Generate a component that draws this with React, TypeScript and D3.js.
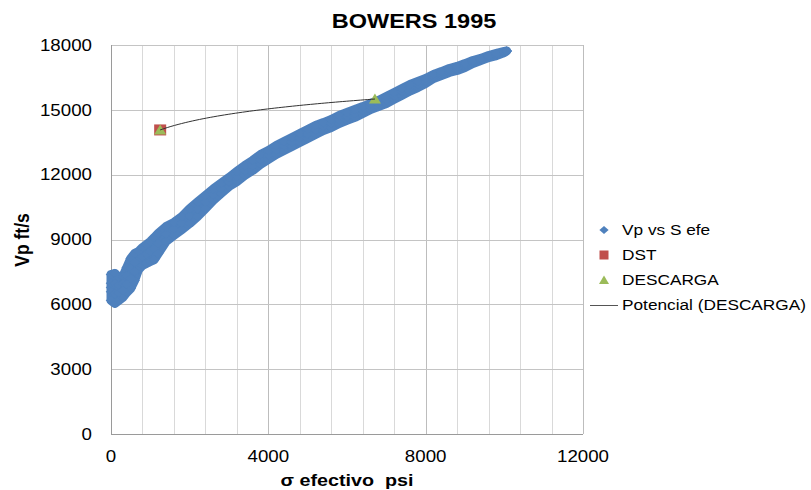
import React from "react";
import * as d3 from "d3";

// Effective stress (psi) sampled along the Vp vs S efe cloud
const sigmaEfe = [
  0, 100, 200, 300, 400, 500, 600, 700, 800, 900, 1000, 1100, 1200, 1400, 1600,
  1800, 2000, 2200, 2400, 2600, 2800, 3000, 3200, 3400, 3600, 3800, 4000, 4200,
  4400, 4600, 4800, 5000, 5200, 5400, 5600, 5800, 6000, 6200, 6400, 6600, 6800,
  7000, 7200, 7400, 7600, 7800, 8000, 8200, 8400, 8600, 8800, 9000, 9200, 9400,
  9600, 9800, 10000, 10060,
];
// Vp (ft/s) at the top, middle and bottom of the cloud for each stress value
const vpUpper = [
  7380, 7430, 7240, 7290, 7700, 8120, 8350, 8450, 8630, 8770, 8910, 9090, 9280,
  9600, 9790, 10060, 10430, 10740, 11040, 11340, 11610, 11870, 12150, 12420,
  12660, 12930, 13120, 13350, 13540, 13720, 13910, 14090, 14280, 14410, 14550,
  14740, 14880, 15020, 15150, 15290, 15430, 15620, 15800, 15990, 16170, 16310,
  16450, 16640, 16770, 16910, 17010, 17140, 17280, 17380, 17510, 17610, 17700,
  17720,
];
const vpMid = [
  6780, 6730, 6710, 6800, 7130, 7430, 7730, 8030, 8210, 8330, 8450, 8580, 8820,
  9250, 9490, 9760, 10090, 10400, 10740, 11070, 11370, 11660, 11920, 12190,
  12420, 12700, 12910, 13140, 13330, 13510, 13700, 13880, 14070, 14230, 14370,
  14550, 14690, 14830, 14990, 15150, 15290, 15460, 15640, 15840, 16030, 16170,
  16330, 16540, 16680, 16820, 16910, 17050, 17210, 17330, 17470, 17560, 17680,
  17720,
];
const vpLower = [
  6180, 6040, 6180, 6320, 6550, 6730, 7100, 7610, 7800, 7890, 7980, 8070, 8350,
  8910, 9190, 9460, 9740, 10060, 10430, 10810, 11130, 11450, 11680, 11960, 12190,
  12470, 12700, 12930, 13120, 13300, 13490, 13670, 13860, 14040, 14180, 14370,
  14510, 14650, 14830, 15020, 15150, 15290, 15490, 15680, 15870, 16030, 16220,
  16450, 16590, 16730, 16820, 16960, 17140, 17280, 17420, 17510, 17650, 17720,
];
// Extra readings in the wide low-stress cluster
const clusterSigma = [0, 0, 100, 100, 200, 200, 300, 300, 400, 400, 500, 500, 600, 600];
const clusterVp = [6980, 6580, 6960, 6500, 6890, 6530, 6960, 6640, 7320, 6930, 7660, 7200, 7940, 7520];

// DST measurement
const dstSigma = [1250];
const dstVp = [14070];

// Unloading (DESCARGA) points
const descargaSigma = [1250, 6710];
const descargaVp = [14070, 15500];

// Axis ticks
const xTickLabels = [0, 4000, 8000, 12000];
const xGridStep = 800;
const yTickLabels = [0, 3000, 6000, 9000, 12000, 15000, 18000];

const legendItems = ["Vp vs S efe", "DST", "DESCARGA", "Potencial (DESCARGA)"];

const BLUE = "#4F81BD";
const RED = "#C0504D";
const GREEN = "#9BBB59";
const FONT = "'Liberation Sans', Arial, sans-serif";

type TxtProps = {
  x: number;
  y: number;
  sx?: number;
  size: number;
  anchor?: "start" | "middle" | "end";
  weight?: string | number;
  rotate?: number;
  children: React.ReactNode;
};

function Txt({ x, y, sx = 1.16, size, anchor = "start", weight = "normal", rotate = 0, children }: TxtProps) {
  return (
    <g transform={`translate(${x},${y}) scale(${sx},1) rotate(${rotate})`}>
      <text
        fontFamily={FONT}
        fontSize={size}
        fontWeight={weight}
        textAnchor={anchor}
        fill="#000"
        style={{ whiteSpace: "pre" }}
      >
        {children}
      </text>
    </g>
  );
}

const diamondPath = "M0,-4.6L5.3,0L0,4.6L-5.3,0Z";
const legendDiamond = "M0,-4L4.6,0L0,4L-4.6,0Z";

export default function App() {
  const width = 811;
  const height = 490;
  const x = d3.scaleLinear().domain([0, 12000]).range([111, 583]);
  const y = d3.scaleLinear().domain([0, 18000]).range([434, 45]);

  const crisp = (v: number) => Math.round(v) + 0.5;

  const vGrid = d3.range(xGridStep, 12000 + 1, xGridStep);
  const hGrid = yTickLabels.filter((v) => v > 0);

  const band: [number, number][] = [];
  sigmaEfe.forEach((s, i) => {
    band.push([s, vpLower[i]]);
    band.push([s, vpMid[i]]);
    band.push([s, vpUpper[i]]);
  });
  clusterSigma.forEach((s, i) => band.push([s, clusterVp[i]]));

  // Body of the dense point cloud, between its lowest and highest readings;
  // the stroke widens it by one marker radius, like the overlapping diamonds
  const cloudArea = d3
    .area<number>()
    .x((s) => x(s))
    .y0((_, i) => y(vpLower[i]))
    .y1((_, i) => y(vpUpper[i]))(sigmaEfe);

  // Power-law trendline (Potencial) fitted to the DESCARGA points in log-log space
  const lx = descargaSigma.map(Math.log);
  const ly = descargaVp.map(Math.log);
  const mx = d3.mean(lx) as number;
  const my = d3.mean(ly) as number;
  const b =
    d3.sum(lx.map((v, i) => (v - mx) * (ly[i] - my))) /
    d3.sum(lx.map((v) => (v - mx) * (v - mx)));
  const lnA = my - b * mx;
  const [x0, x1] = d3.extent(descargaSigma) as [number, number];
  const trend = d3.range(0, 61).map((i) => {
    const s = x0 + ((x1 - x0) * i) / 60;
    return [s, Math.exp(lnA + b * Math.log(s))] as [number, number];
  });
  const trendPath = d3
    .line<[number, number]>()
    .x((d) => x(d[0]))
    .y((d) => y(d[1]))(trend);

  const legendX = 604;
  const legendY0 = 230;
  const legendDy = 25;

  return (
    <svg
      width={width}
      height={height}
      style={{ position: "absolute", left: 0, top: 0, background: "#fff" }}
    >
      <rect width={width} height={height} fill="#fff" />

      {/* grid */}
      {vGrid.map((v) => (
        <line
          key={`vg${v}`}
          x1={crisp(x(v))}
          x2={crisp(x(v))}
          y1={y(0)}
          y2={y(18000)}
          stroke={v % 4000 === 0 ? "#bdbdbd" : "#d9d9d9"}
          strokeWidth={1}
        />
      ))}
      {hGrid.map((v) => (
        <line
          key={`hg${v}`}
          x1={x(0)}
          x2={x(12000)}
          y1={crisp(y(v))}
          y2={crisp(y(v))}
          stroke="#c4c4c4"
          strokeWidth={1}
        />
      ))}
      {/* axes */}
      <line x1={crisp(x(0))} x2={crisp(x(0))} y1={y(0)} y2={y(18000)} stroke="#9a9a9a" />
      <line x1={x(0)} x2={x(12000)} y1={crisp(y(0))} y2={crisp(y(0))} stroke="#9a9a9a" />

      {/* tick labels */}
      {yTickLabels.map((v) => (
        <Txt key={`yt${v}`} x={92} y={y(v) + 5.7} size={16} sx={1.17} anchor="end">
          {String(v)}
        </Txt>
      ))}
      {xTickLabels.map((v) => (
        <Txt key={`xt${v}`} x={x(v)} y={462} size={16} sx={1.17} anchor="middle">
          {String(v)}
        </Txt>
      ))}

      {/* Vp vs S efe */}
      <path
        d={cloudArea || ""}
        fill={BLUE}
        stroke={BLUE}
        strokeWidth={9}
        strokeLinejoin="round"
      />
      <g fill={BLUE}>
        {band.map(([s, v], i) => (
          <path key={`b${i}`} d={diamondPath} transform={`translate(${x(s)},${y(v)})`} />
        ))}
      </g>

      {/* DST */}
      {dstSigma.map((s, i) => (
        <rect key={`d${i}`} x={x(s) - 6} y={y(dstVp[i]) - 5.5} width={12} height={11} fill={RED} />
      ))}

      {/* DESCARGA */}
      {descargaSigma.map((s, i) => (
        <path
          key={`t${i}`}
          d="M0,-5.5L6,4.5L-6,4.5Z"
          transform={`translate(${x(s)},${y(descargaVp[i])})`}
          fill={GREEN}
        />
      ))}

      {/* Potencial (DESCARGA) */}
      <path d={trendPath || ""} fill="none" stroke="#333" strokeWidth={1} />

      {/* titles */}
      <Txt x={414} y={28} size={21} sx={1.12} anchor="middle" weight="bold">
        BOWERS 1995
      </Txt>
      <Txt x={347} y={486} size={17} sx={1.16} anchor="middle" weight="bold">
        {"σ efectivo  psi"}
      </Txt>
      <Txt x={29} y={240} size={17.5} sx={1.16} anchor="middle" weight="bold" rotate={-90}>
        Vp ft/s
      </Txt>

      {/* legend */}
      <path d={legendDiamond} transform={`translate(${legendX},${legendY0})`} fill={BLUE} />
      <rect x={legendX - 4.5} y={legendY0 + legendDy - 4.5} width={9} height={9} fill={RED} />
      <path
        d="M0,-4.5L5,4L-5,4Z"
        transform={`translate(${legendX},${legendY0 + 2 * legendDy})`}
        fill={GREEN}
      />
      <line
        x1={590}
        x2={618}
        y1={legendY0 + 3 * legendDy + 0.5}
        y2={legendY0 + 3 * legendDy + 0.5}
        stroke="#555"
        strokeWidth={1}
      />
      {legendItems.map((t, i) => (
        <Txt key={t} x={622} y={legendY0 + i * legendDy + 5.4} size={15} sx={1.15}>
          {t}
        </Txt>
      ))}
    </svg>
  );
}
